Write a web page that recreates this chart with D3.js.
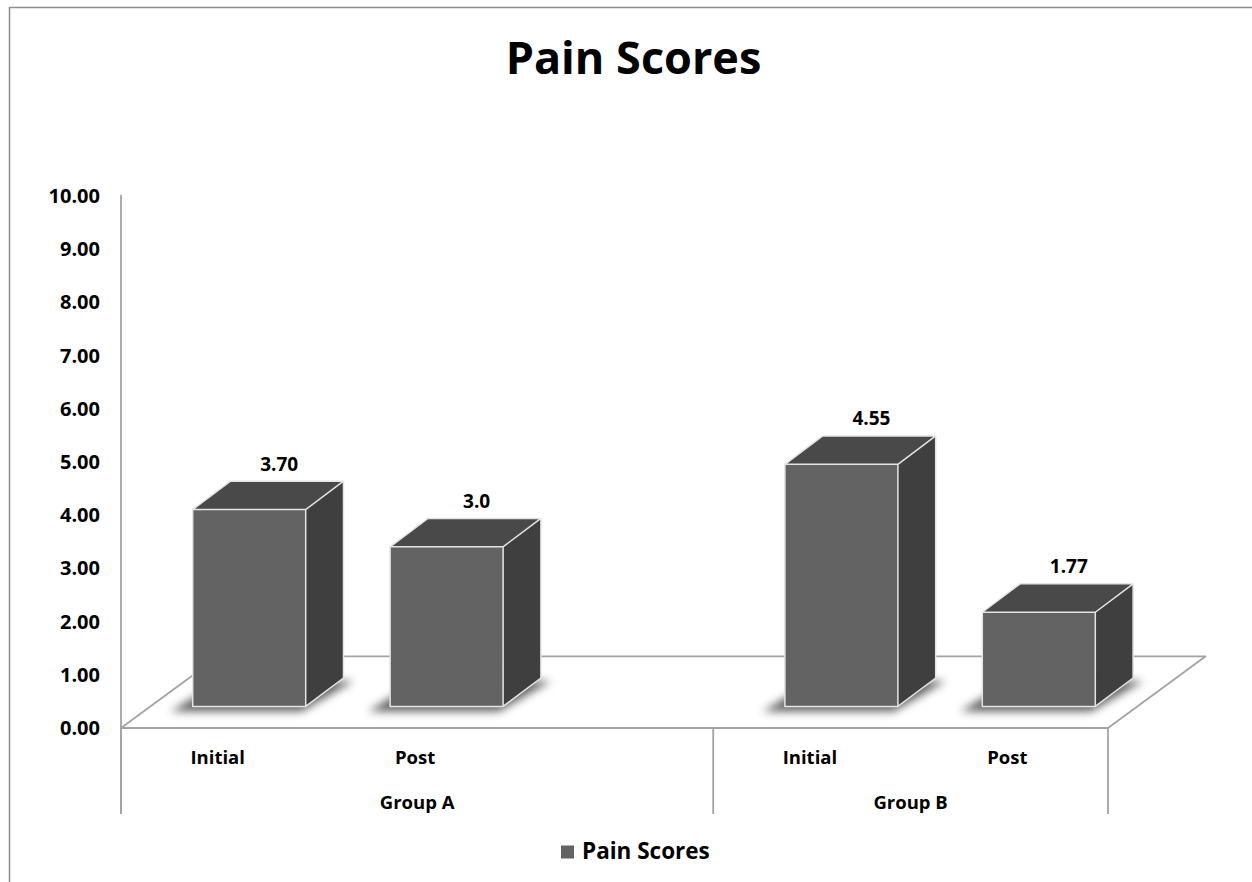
<!DOCTYPE html>
<html>
<head>
<meta charset="utf-8">
<script src="https://cdn.jsdelivr.net/npm/d3@7"></script>
<style>
  html, body { margin: 0; padding: 0; background: #fff; }
  svg { display: block; }
  text { font-family: "Open Sans", "Noto Sans", sans-serif; font-weight: 700; fill: #000; }
</style>
</head>
<body>
<svg id="chart" width="1252" height="882"></svg>
<script>
// ---------------- data ----------------
const chartTitle = "Pain Scores";
const seriesName = "Pain Scores";
const groups = ["Group A", "Group B"];
const categories = ["Initial", "Post", "", "Initial", "Post"];
const categoryGroup = ["Group A", "Group A", "Group A", "Group B", "Group B"];
const values = [3.70, 3.0, null, 4.55, 1.77];
const valueLabels = ["3.70", "3.0", "", "4.55", "1.77"];
const yTicks = [0, 1, 2, 3, 4, 5, 6, 7, 8, 9, 10];

// ---------------- layout ----------------
const W = 1252, H = 882;
const floorLeft = 121, floorRight = 1108, floorY = 728, axisTop = 196;
const floorDepth = [97.4, -71.6];     // back of floor relative to front
const barFront = [29.5, -21.6];       // bar front plane offset
const barDepth = [37.8, -28.4];       // bar depth
const barFrac = 0.5725;
const catLineBottom = 814;

const colFront = "#636363", colSide = "#3f3f3f", colTop = "#494949";
const colEdge = "#e4e4e4", colAxis = "#a3a3a3";

const svg = d3.select("#chart");

const defs = svg.append("defs");
defs.append("filter").attr("id", "shadowBlur")
  .attr("x", "-50%").attr("y", "-50%").attr("width", "200%").attr("height", "200%")
  .append("feGaussianBlur").attr("stdDeviation", 4.5);

// outer border
svg.append("rect").attr("x", 9.5).attr("y", 7.5).attr("width", W).attr("height", H)
  .attr("fill", "#fff").attr("stroke", "#8c8c8c").attr("stroke-width", 1.5);

// scales
const y = d3.scaleLinear().domain([0, 10]).range([floorY, axisTop]);
const x = d3.scaleBand().domain(d3.range(categories.length)).range([floorLeft, floorRight]).padding(0);
const step = x.step();
const bw = step * barFrac;

// title
svg.append("text").attr("x", 633.5).attr("y", 74).attr("text-anchor", "middle")
  .style("font-size", "45px").text(chartTitle);

// floor
const fl = [[floorLeft, floorY], [floorRight, floorY],
            [floorRight + floorDepth[0], floorY + floorDepth[1]],
            [floorLeft + floorDepth[0], floorY + floorDepth[1]]];
svg.append("polygon").attr("points", fl.map(p => p.join(",")).join(" "))
  .attr("fill", "#fff").attr("stroke", colAxis).attr("stroke-width", 1.8).attr("stroke-linejoin", "round");

// y axis line
svg.append("line").attr("x1", floorLeft).attr("x2", floorLeft)
  .attr("y1", y(10) - 1).attr("y2", catLineBottom)
  .attr("stroke", colAxis).attr("stroke-width", 1.8);

// y axis labels
const yAxis = d3.axisLeft(y).tickValues(yTicks).tickFormat(d3.format(".2f")).tickSize(0).tickPadding(21);
const gy = svg.append("g").attr("transform", `translate(${floorLeft},0)`).call(yAxis);
gy.select(".domain").remove();
gy.selectAll("text").style("font-size", "20px").style("font-family", null).attr("fill", "#000");

// category separators
const groupBounds = groups.map(g => {
  const idx = categoryGroup.map((c, i) => c === g ? i : -1).filter(i => i >= 0);
  return { name: g, x0: x(idx[0]), x1: x(idx[idx.length - 1]) + step };
});
const sepXs = [floorLeft].concat(groupBounds.map(b => b.x1));
svg.selectAll("line.sep").data(sepXs).enter().append("line").attr("class", "sep")
  .attr("x1", d => d).attr("x2", d => d).attr("y1", floorY).attr("y2", catLineBottom)
  .attr("stroke", colAxis).attr("stroke-width", 1.8);

// category labels
svg.selectAll("text.cat").data(categories).enter().append("text").attr("class", "cat")
  .attr("x", (d, i) => x(i) + step / 2 - 2).attr("y", 764).attr("text-anchor", "middle")
  .style("font-size", "18.5px").text(d => d);

// group labels
svg.selectAll("text.grp").data(groupBounds).enter().append("text").attr("class", "grp")
  .attr("x", d => (d.x0 + d.x1) / 2).attr("y", 809).attr("text-anchor", "middle")
  .style("font-size", "18.5px").text(d => d.name);

// bars
const barData = values.map((v, i) => ({ v, i, label: valueLabels[i] })).filter(d => d.v != null);
const baseY = floorY + barFront[1];
function geom(d) {
  const x0 = x(d.i) + (step - bw) / 2 + barFront[0];
  const yt = y(d.v) + barFront[1];
  return { x0, x1: x0 + bw, yb: baseY, yt };
}
const pts = a => a.map(p => p.join(",")).join(" ");

// shadows
svg.selectAll("polygon.shadow").data(barData).enter().append("polygon").attr("class", "shadow")
  .attr("points", d => {
    const g = geom(d);
    const dx = barDepth[0], dy = barDepth[1];
    return pts([[g.x0 - 22, g.yb + 5], [g.x1 - 4, g.yb + 5], [g.x1 + dx + 10, g.yb + dy + 3], [g.x0 + dx - 10, g.yb + dy + 3]]);
  })
  .attr("fill", "#4a4a4a").attr("opacity", 0.85).attr("filter", "url(#shadowBlur)");

const bars = svg.selectAll("g.bar").data(barData).enter().append("g").attr("class", "bar");
bars.append("polygon").attr("points", d => {
  const g = geom(d);
  return pts([[g.x1, g.yb], [g.x1 + barDepth[0], g.yb + barDepth[1]], [g.x1 + barDepth[0], g.yt + barDepth[1]], [g.x1, g.yt]]);
}).attr("fill", colSide);
bars.append("polygon").attr("points", d => {
  const g = geom(d);
  return pts([[g.x0, g.yt], [g.x0 + barDepth[0], g.yt + barDepth[1]], [g.x1 + barDepth[0], g.yt + barDepth[1]], [g.x1, g.yt]]);
}).attr("fill", colTop);
bars.append("rect")
  .attr("x", d => geom(d).x0).attr("y", d => geom(d).yt)
  .attr("width", bw).attr("height", d => geom(d).yb - geom(d).yt)
  .attr("fill", colFront);
// edges
bars.append("path").attr("d", d => {
  const g = geom(d), dx = barDepth[0], dy = barDepth[1];
  return `M${g.x0},${g.yb}L${g.x1},${g.yb}L${g.x1},${g.yt}L${g.x0},${g.yt}Z` +
         `M${g.x1},${g.yb}L${g.x1 + dx},${g.yb + dy}L${g.x1 + dx},${g.yt + dy}L${g.x1},${g.yt}` +
         `M${g.x0},${g.yt}L${g.x0 + dx},${g.yt + dy}L${g.x1 + dx},${g.yt + dy}`;
}).attr("fill", "none").attr("stroke", colEdge).attr("stroke-width", 1.5).attr("stroke-linejoin", "round");

// value labels
svg.selectAll("text.val").data(barData).enter().append("text").attr("class", "val")
  .attr("x", d => (geom(d).x0 + geom(d).x1) / 2 + 30)
  .attr("y", d => geom(d).yt - 39)
  .attr("text-anchor", "middle").style("font-size", "19px").text(d => d.label);

// legend
const lg = svg.append("g");
lg.append("rect").attr("x", 561).attr("y", 845.5).attr("width", 13).attr("height", 13).attr("fill", colFront);
lg.append("text").attr("x", 582).attr("y", 859).style("font-size", "22.5px").text(seriesName);
</script>
</body>
</html>
